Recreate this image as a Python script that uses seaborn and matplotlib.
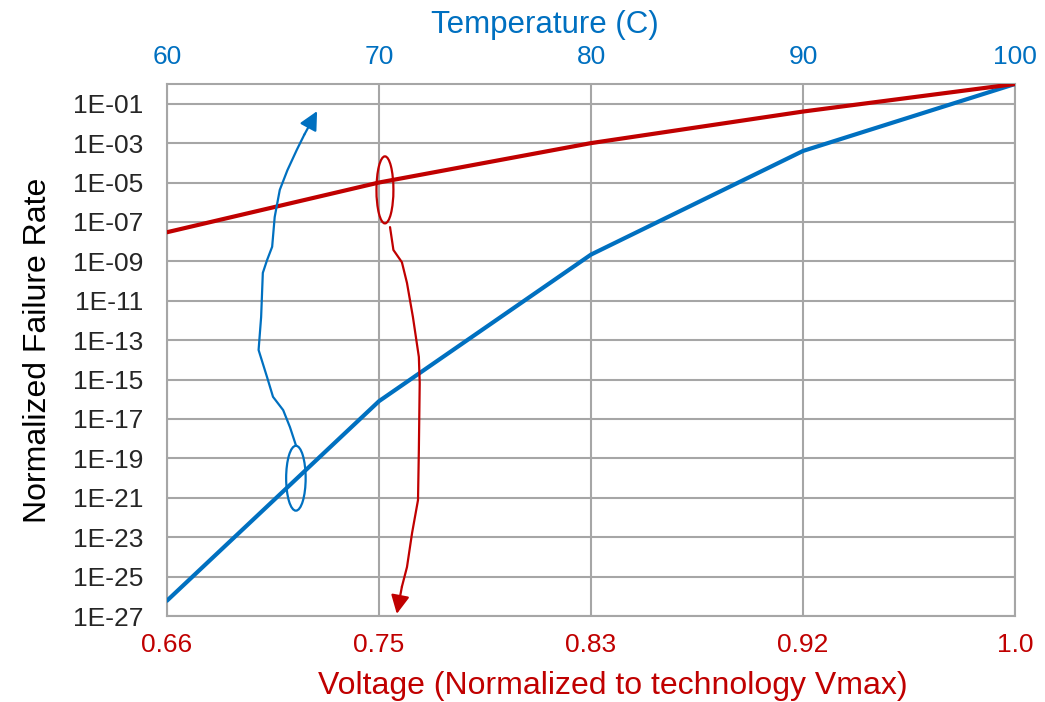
import matplotlib
matplotlib.use("Agg")
import matplotlib.pyplot as plt
import numpy as np
import pandas as pd
import seaborn as sns
from matplotlib.patches import Ellipse

# ── Data ──────────────────────────────────────────────────────────────────────
temperature = [60, 70, 80, 90, 100]
voltage_labels = ["0.66", "0.75", "0.83", "0.92", "1.0"]
temp_rate = [6e-27, 8e-17, 2.2e-9, 4e-4, 1.0]      # blue: temperature driven
volt_rate = [3e-8, 1e-5, 1e-3, 4e-2, 1.0]          # red: voltage driven
ytick_exp = list(range(-27, 0, 2))

BLUE = "#0070C0"
RED = "#C00000"
GRID = "#A6A6A6"

df = pd.DataFrame({
    "temp": temperature * 2,
    "rate": temp_rate + volt_rate,
    "series": ["Temperature"] * 5 + ["Voltage"] * 5,
})

sns.set_theme(style="white")
plt.rcParams["font.family"] = ["Liberation Sans", "DejaVu Sans"]

fig = plt.figure(figsize=(10.45, 7.02), dpi=100)
ax = fig.add_axes([167 / 1045, 1 - 616 / 702, 848 / 1045, 532 / 702])

sns.lineplot(data=df, x="temp", y="rate", hue="series",
             palette={"Temperature": BLUE, "Voltage": RED},
             linewidth=3, legend=False, ax=ax, zorder=3)

ax.set_yscale("log")
ax.set_xlim(60, 100)
ax.set_ylim(1e-27, 1e0)

ax.set_yticks([10.0 ** e for e in ytick_exp])
ax.set_yticklabels([f"1E{e:03d}" for e in ytick_exp])
ax.yaxis.set_minor_locator(matplotlib.ticker.NullLocator())
ax.set_xticks(temperature)
ax.set_xticklabels(voltage_labels, color=RED)

ax.grid(True, which="major", color=GRID, linewidth=1.5)
for sp in ax.spines.values():
    sp.set_color(GRID)
    sp.set_linewidth(1.5)
ax.tick_params(axis="both", length=0, labelsize=19)
ax.tick_params(axis="x", pad=12)
ax.tick_params(axis="y", pad=17)

ax.set_ylabel("Normalized Failure Rate", fontsize=23, color="black")
ax.yaxis.set_label_coords(-0.135, 0.5)
ax.set_xlabel("Voltage (Normalized to technology Vmax)", fontsize=23, color=RED)
ax.xaxis.set_label_coords(0.526, -0.104)

top = ax.secondary_xaxis("top")
top.set_xticks(temperature)
top.set_xticklabels([str(t) for t in temperature], color=BLUE)
top.tick_params(length=0, labelsize=19, pad=11)
top.spines["top"].set_visible(False)
ax.text(0.446, 1.096, "Temperature (C)", transform=ax.transAxes,
        ha="center", va="baseline", fontsize=22.5, color=BLUE)

# ── Hand-drawn style annotations (axes fraction) ──────────────────────────────
blue_path = np.array([
    (0.152, 0.321), (0.145, 0.355), (0.137, 0.387), (0.125, 0.412),
    (0.118, 0.449), (0.108, 0.500), (0.111, 0.562), (0.113, 0.645),
    (0.118, 0.669), (0.124, 0.694), (0.127, 0.750), (0.133, 0.801),
    (0.142, 0.838), (0.153, 0.876), (0.162, 0.905),
])
red_path = np.array([
    (0.263, 0.731), (0.267, 0.688), (0.277, 0.665), (0.283, 0.626),
    (0.290, 0.562), (0.297, 0.487), (0.298, 0.438), (0.297, 0.312),
    (0.296, 0.218), (0.289, 0.156), (0.283, 0.092), (0.277, 0.055),
])
for path, tip, col in [(blue_path, (0.177, 0.949), BLUE),
                       (red_path, (0.271, 0.004), RED)]:
    ax.plot(path[:, 0], path[:, 1], color=col, lw=1.6,
            transform=ax.transAxes, zorder=4, clip_on=False)
    ax.annotate("", xy=tip, xytext=tuple(path[-1]),
                xycoords="axes fraction", textcoords="axes fraction",
                arrowprops=dict(arrowstyle="-|>", color=col, lw=1.6,
                                mutation_scale=28, shrinkA=0, shrinkB=0),
                zorder=4)

ax.add_patch(Ellipse((0.152, 0.259), 0.023, 0.122, transform=ax.transAxes,
                     fill=False, edgecolor=BLUE, lw=1.6, zorder=4))
ax.add_patch(Ellipse((0.257, 0.801), 0.020, 0.126, transform=ax.transAxes,
                     fill=False, edgecolor=RED, lw=1.6, zorder=4))

fig.savefig("out.png", dpi=100)
plt.close(fig)
